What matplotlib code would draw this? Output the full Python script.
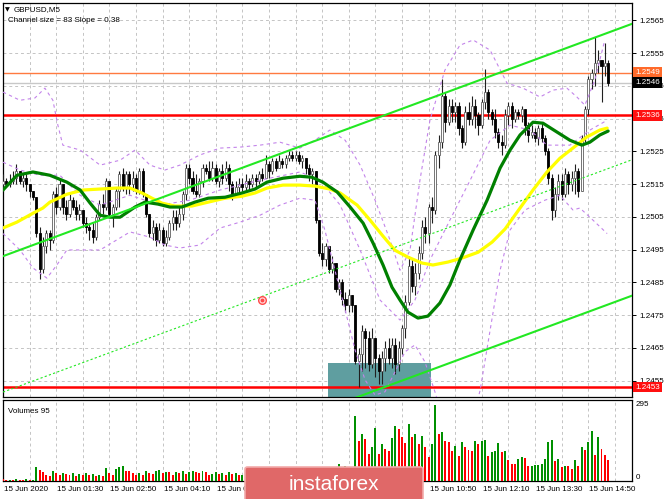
import matplotlib
matplotlib.use('Agg')
import matplotlib.pyplot as plt
import matplotlib.transforms as mtransforms
from matplotlib.patches import FancyBboxPatch, Rectangle
import numpy as np

plt.rcParams['font.family'] = ['Liberation Sans', 'DejaVu Sans']

# ---- GBPUSD M5, 15 Jun 2020 ----
first_open = 1.2515
close = [1.2516, 1.2515, 1.2516, 1.2517, 1.2519, 1.2516, 1.2517, 1.2515, 1.2513, 1.2511,
         1.2500, 1.2489, 1.2496, 1.2500, 1.2498, 1.2512, 1.2508, 1.2515, 1.2508, 1.2506,
         1.2510, 1.2508, 1.2506, 1.2507, 1.2503, 1.2502, 1.2501, 1.2499, 1.2505, 1.2509,
         1.2508, 1.2516, 1.2506, 1.2508, 1.2513, 1.2518, 1.2514, 1.2518, 1.2515, 1.2517,
         1.2513, 1.2519, 1.2512, 1.2506, 1.2500, 1.2502, 1.2498, 1.2501, 1.2497, 1.2499,
         1.2503, 1.2505, 1.2503, 1.2506, 1.2512, 1.2520, 1.2517, 1.2513, 1.2512, 1.2516,
         1.2520, 1.2519, 1.2517, 1.2520, 1.2516, 1.2519, 1.2517, 1.2520, 1.2515, 1.2512,
         1.2514, 1.2515, 1.2514, 1.2516, 1.2515, 1.2517, 1.2516, 1.2518, 1.2517, 1.2521,
         1.2519, 1.2522, 1.2520, 1.2522, 1.2521, 1.2523, 1.2524, 1.2523, 1.2524, 1.2522,
         1.2523, 1.2520, 1.2518, 1.2519, 1.2504, 1.2494, 1.2492, 1.2496, 1.2489, 1.2491,
         1.2483, 1.2485, 1.2480, 1.2478, 1.2481, 1.2478, 1.2461, 1.2463, 1.2470, 1.2468,
         1.2460, 1.2468, 1.2462, 1.2458, 1.2462, 1.2465, 1.2462, 1.2466, 1.2460, 1.2465,
         1.2471, 1.2479, 1.2490, 1.2484, 1.2488, 1.2494, 1.2502, 1.2500, 1.2508, 1.2507,
         1.2524, 1.2528, 1.2542, 1.2534, 1.2539, 1.2537, 1.2539, 1.2532, 1.2528, 1.2537,
         1.2535, 1.2539, 1.2536, 1.2533, 1.2540, 1.2543, 1.2537, 1.2535, 1.2531, 1.2528,
         1.2527, 1.2536, 1.2539, 1.2535, 1.2537, 1.2536, 1.2538, 1.2533, 1.2530, 1.2531,
         1.2529, 1.2532, 1.2529, 1.2525, 1.2517, 1.2507, 1.2512, 1.2516, 1.2512, 1.2518,
         1.2515, 1.2517, 1.2519, 1.2513, 1.2529, 1.2538, 1.2547, 1.2549, 1.2552, 1.2553,
         1.2551, 1.2552, 1.2546]
high = [1.2518, 1.2517, 1.2518, 1.2519, 1.2521, 1.2519, 1.2518, 1.2518, 1.2515, 1.2513,
        1.2511, 1.2502, 1.2499, 1.2501, 1.2501, 1.2513, 1.2514, 1.2517, 1.2515, 1.2510,
        1.2512, 1.2511, 1.2510, 1.2509, 1.2507, 1.2505, 1.2503, 1.2503, 1.2506, 1.2510,
        1.2512, 1.2517, 1.2515, 1.2509, 1.2514, 1.2519, 1.2520, 1.2519, 1.2519, 1.2519,
        1.2518, 1.2520, 1.2520, 1.2512, 1.2506, 1.2504, 1.2503, 1.2503, 1.2502, 1.2501,
        1.2504, 1.2507, 1.2507, 1.2508, 1.2513, 1.2521, 1.2521, 1.2519, 1.2518, 1.2517,
        1.2521, 1.2521, 1.2522, 1.2522, 1.2521, 1.2520, 1.2521, 1.2522, 1.2521, 1.2516,
        1.2516, 1.2517, 1.2517, 1.2518, 1.2517, 1.2518, 1.2518, 1.2519, 1.2520, 1.2524,
        1.2522, 1.2523, 1.2523, 1.2524, 1.2523, 1.2524, 1.2525, 1.2525, 1.2525, 1.2525,
        1.2524, 1.2523, 1.2521, 1.2520, 1.2519, 1.2504, 1.2497, 1.2497, 1.2496, 1.2493,
        1.2491, 1.2486, 1.2486, 1.2482, 1.2483, 1.2481, 1.2478, 1.2465, 1.2472, 1.2471,
        1.2470, 1.2471, 1.2468, 1.2463, 1.2464, 1.2467, 1.2468, 1.2468, 1.2468, 1.2467,
        1.2472, 1.2481, 1.2493, 1.2492, 1.2491, 1.2496, 1.2504, 1.2505, 1.2509, 1.2511,
        1.2525, 1.2530, 1.2547, 1.2543, 1.2541, 1.2541, 1.2540, 1.2540, 1.2533, 1.2539,
        1.2540, 1.2542, 1.2541, 1.2537, 1.2541, 1.2550, 1.2544, 1.2538, 1.2538, 1.2532,
        1.2530, 1.2538, 1.2540, 1.2540, 1.2538, 1.2538, 1.2539, 1.2538, 1.2534, 1.2533,
        1.2532, 1.2533, 1.2534, 1.2530, 1.2526, 1.2518, 1.2514, 1.2518, 1.2518, 1.2520,
        1.2519, 1.2519, 1.2521, 1.2520, 1.2530, 1.2539, 1.2548, 1.2550, 1.2560, 1.2556,
        1.2553, 1.2558, 1.2553]
low = [1.2513, 1.2514, 1.2514, 1.2515, 1.2515, 1.2515, 1.2514, 1.2513, 1.2511, 1.2510,
       1.2499, 1.2486, 1.2488, 1.2494, 1.2495, 1.2497, 1.2506, 1.2507, 1.2506, 1.2504,
       1.2505, 1.2507, 1.2504, 1.2504, 1.2502, 1.2500, 1.2498, 1.2497, 1.2498, 1.2504,
       1.2506, 1.2507, 1.2505, 1.2502, 1.2507, 1.2508, 1.2513, 1.2512, 1.2512, 1.2513,
       1.2512, 1.2512, 1.2511, 1.2505, 1.2499, 1.2498, 1.2496, 1.2497, 1.2496, 1.2496,
       1.2498, 1.2501, 1.2501, 1.2502, 1.2504, 1.2510, 1.2515, 1.2512, 1.2511, 1.2511,
       1.2514, 1.2518, 1.2516, 1.2516, 1.2515, 1.2514, 1.2515, 1.2516, 1.2513, 1.2510,
       1.2511, 1.2512, 1.2513, 1.2513, 1.2513, 1.2514, 1.2514, 1.2515, 1.2516, 1.2517,
       1.2517, 1.2518, 1.2519, 1.2520, 1.2520, 1.2520, 1.2522, 1.2522, 1.2522, 1.2521,
       1.2520, 1.2518, 1.2516, 1.2515, 1.2503, 1.2493, 1.2490, 1.2490, 1.2488, 1.2488,
       1.2482, 1.2481, 1.2478, 1.2476, 1.2476, 1.2476, 1.2460, 1.2453, 1.2458, 1.2459,
       1.2458, 1.2459, 1.2456, 1.2454, 1.2454, 1.2458, 1.2460, 1.2459, 1.2457, 1.2458,
       1.2463, 1.2468, 1.2478, 1.2482, 1.2481, 1.2486, 1.2492, 1.2497, 1.2497, 1.2503,
       1.2506, 1.2520, 1.2526, 1.2531, 1.2533, 1.2534, 1.2534, 1.2530, 1.2526, 1.2527,
       1.2533, 1.2533, 1.2532, 1.2530, 1.2532, 1.2538, 1.2535, 1.2533, 1.2529, 1.2526,
       1.2524, 1.2526, 1.2533, 1.2532, 1.2534, 1.2535, 1.2534, 1.2530, 1.2528, 1.2529,
       1.2528, 1.2527, 1.2528, 1.2524, 1.2515, 1.2504, 1.2505, 1.2510, 1.2510, 1.2511,
       1.2512, 1.2513, 1.2512, 1.2511, 1.2513, 1.2528, 1.2536, 1.2544, 1.2545, 1.2549,
       1.2540, 1.2548, 1.2545]
volume = [6, 4, 5, 3, 7, 5, 4, 6, 3, 5,
          53, 42, 33, 22, 20, 37, 30, 25, 32, 26,
          22, 30, 21, 28, 22, 30, 24, 27, 21, 25,
          18, 50, 30, 22, 45, 55, 57, 38, 38, 30,
          24, 32, 25, 37, 30, 26, 40, 44, 32, 36,
          34, 24, 36, 32, 38, 28, 33, 40, 34, 30,
          37, 34, 22, 28, 35, 26, 30, 24, 34, 26,
          30, 22, 25, 28, 33, 25, 30, 36, 28, 40,
          32, 30, 26, 34, 29, 24, 31, 27, 22, 30,
          25, 33, 36, 40, 48, 45, 42, 38, 44, 40,
          46, 64, 50, 60, 52, 48, 253, 156, 183, 163,
          106, 130, 205, 103, 143, 123, 116, 165, 212, 202,
          169, 149, 222, 170, 183, 143, 176, 130, 93, 145,
          295, 183, 190, 156, 152, 116, 136, 97, 152, 130,
          119, 116, 156, 143, 156, 159, 97, 114, 116, 146,
          112, 116, 83, 66, 64, 86, 93, 90, 57, 60,
          61, 62, 64, 86, 152, 159, 77, 86, 55, 60,
          57, 46, 83, 60, 130, 120, 150, 193, 99, 169,
          123, 99, 80]

# moving averages (bar index, price)
green_ma_bar = [0, 4.2, 9.0, 14.1, 19.2, 23.2, 26.2, 29.2, 32.2, 35.2, 39.7, 42.7, 46.6, 50.2,
                53.8, 57.7, 61.7, 66.8, 71.9, 75.8, 79.4, 84.2, 89.3, 92.9, 96.2, 100.5, 104.4,
                108.3, 111.3, 114.3, 117.0, 119.4, 121.8, 124.8, 127.8, 131.4, 134.4, 137.4,
                141.4, 145.6, 149.5, 152.5, 155.5, 159.4, 162.4, 166.6, 170.5, 174.1, 176.5,
                179.5, 182.0]
green_ma = [1.25132, 1.25177, 1.25187, 1.25177, 1.25156, 1.25132, 1.25092, 1.25055, 1.25049,
            1.25049, 1.25080, 1.25095, 1.25089, 1.25080, 1.25080, 1.25095, 1.25107, 1.25110,
            1.25123, 1.25135, 1.25156, 1.25168, 1.25174, 1.25171, 1.25156, 1.25126, 1.25080,
            1.25031, 1.24970, 1.24903, 1.24835, 1.24796, 1.24759, 1.24741, 1.24747, 1.24787,
            1.24842, 1.24918, 1.25010, 1.25101, 1.25199, 1.25254, 1.25300, 1.25339, 1.25336,
            1.25309, 1.25284, 1.25269, 1.25278, 1.25300, 1.25312]
yellow_ma_bar = [0, 4.2, 9.0, 12.0, 14.1, 19.2, 24.1, 29.2, 34.3, 38.2, 41.8, 44.8, 47.8, 51.7,
                 56.8, 61.7, 66.8, 71.9, 75.8, 79.4, 84.2, 89.3, 93.8, 98.3, 101.4, 106.5, 110.4,
                 114.3, 117.9, 121.8, 126.0, 129.3, 133.8, 138.0, 142.9, 147.1, 151.0, 155.5,
                 159.4, 163.6, 167.5, 171.4, 175.6, 179.5, 181.7]
yellow_ma = [1.25016, 1.25034, 1.25061, 1.25077, 1.25095, 1.25119, 1.25132, 1.25135, 1.25138,
             1.25138, 1.25123, 1.25107, 1.25092, 1.25083, 1.25083, 1.25095, 1.25107, 1.25113,
             1.25123, 1.25138, 1.25147, 1.25147, 1.25144, 1.25135, 1.25123, 1.25086, 1.25040,
             1.24991, 1.24948, 1.24927, 1.24909, 1.24903, 1.24912, 1.24924, 1.24942, 1.24973,
             1.25013, 1.25077, 1.25132, 1.25187, 1.25229, 1.25260, 1.25294, 1.25315, 1.25321]

# bollinger envelopes (bar index, price)
bb_up_bar = [0, 5.1, 9.6, 12.6, 15.0, 16.5, 18.0, 23.2, 29.2, 35.2, 39.7, 44.2, 48.7, 53.2,
             59.2, 65.3, 71.3, 77.3, 83.3, 89.3, 93.8, 98.3, 102.9, 107.4, 111.9, 116.4,
             119.4, 122.4, 125.4, 128.4, 132.9, 137.4, 141.4, 146.5, 151.6, 156.4, 161.5,
             165.4, 169.6, 172.6, 175.0, 178.0, 181.0]
bb_up = [1.25431, 1.25406, 1.25413, 1.25443, 1.25406, 1.25330, 1.25269, 1.25254, 1.25208,
         1.25223, 1.25254, 1.25208, 1.25193, 1.25208, 1.25239, 1.25260, 1.25263, 1.25269,
         1.25278, 1.25260, 1.25284, 1.25315, 1.25284, 1.25208, 1.25101, 1.24979, 1.24887,
         1.24948, 1.25162, 1.25345, 1.25498, 1.25574, 1.25590, 1.25559, 1.25458, 1.25443,
         1.25416, 1.25437, 1.25443, 1.25416, 1.25391, 1.25468, 1.25590]
bb_mid_bar = [0, 5.1, 11.1, 17.1, 23.2, 29.2, 38.2, 47.2, 56.2, 65.3, 77.3, 89.3, 95.3, 101.4,
              107.4, 113.4, 119.4, 123.9, 128.4, 134.4, 140.5, 146.5, 152.5, 158.5, 163.6,
              170.5, 176.5, 181.7]
bb_mid = [1.25217, 1.25193, 1.25177, 1.25177, 1.25116, 1.25086, 1.25116, 1.25086, 1.25101,
          1.25132, 1.25162, 1.25187, 1.25162, 1.25086, 1.24949, 1.24796, 1.24735, 1.24796,
          1.24918, 1.25040, 1.25162, 1.25284, 1.25330, 1.25315, 1.25269, 1.25269, 1.25315,
          1.25345]
bb_low_bar = [0, 5.1, 9.0, 13.2, 16.2, 19.2, 29.2, 38.2, 44.2, 48.7, 53.2, 59.2, 65.3, 71.3,
              77.3, 83.3, 89.3, 93.8, 96.8, 99.8, 102.9, 105.9, 108.9, 111.9, 114.9, 117.9,
              120.9, 123.9, 126.9, 129.9, 132.9, 140.5, 143.5, 146.5, 149.5, 152.5, 157.0,
              163.0, 167.5, 171.4, 173.5, 176.5, 181.7]
bb_low = [1.24999, 1.24949, 1.24894, 1.24863, 1.24903, 1.24949, 1.24949, 1.25004, 1.24988,
          1.24964, 1.24955, 1.24964, 1.25016, 1.25034, 1.25055, 1.25086, 1.25107, 1.25101,
          1.25010, 1.24888, 1.24766, 1.24643, 1.24552, 1.24506, 1.24516, 1.24577, 1.24638,
          1.24659, 1.24607, 1.24516, 1.24414, 1.24399, 1.24521, 1.24704, 1.24887, 1.25010,
          1.25071, 1.25101, 1.25116, 1.25071, 1.25077, 1.25049, 1.24999]

# regression channel: middle line value at bar 0, slope per bar, half width
chan_mid0 = 1.24515
chan_slope = 0.0000375
chan_half = 0.00415

# horizontal levels
level_orange = 1.2549
level_bid = 1.2546
level_red_hi = 1.2536
level_red_lo = 1.2453

# support zone and target mark
zone_bars = (97.7, 128.7)
zone_top = 1.24603
target_bar, target_price = 77.9, 1.24796

price_ticks = [1.2455, 1.2465, 1.2475, 1.2485, 1.2495, 1.2505, 1.2515, 1.2525,
               1.2535, 1.2545, 1.2555, 1.2565]
time_labels = ['15 Jun 2020', '15 Jun 01:30', '15 Jun 02:50', '15 Jun 04:10', '15 Jun 05:30',
               '15 Jun 06:50', '15 Jun 08:10', '15 Jun 09:30', '15 Jun 10:50', '15 Jun 12:10',
               '15 Jun 13:30', '15 Jun 14:50']
time_label_bars = [0, 16, 32, 48, 64, 80, 96, 112, 128, 144, 160, 176]

# ---- figure ----
W, H = 665, 499
fig = plt.figure(figsize=(W / 100, H / 100), dpi=100)
fig.patch.set_facecolor('white')

ax = fig.add_axes([3 / W, 1 - 397 / H, 629 / W, 394 / H])
axv = fig.add_axes([3 / W, 1 - 481 / H, 629 / W, 81 / H])
xmax = 629 / 3.325

grid_kw = dict(color='#c4c4c4', lw=0.7, ls=(0, (3, 3)))
fs = 5.8

ax.set_xlim(0, xmax)
ax.set_ylim(1.24500, 1.25703)
ax.set_xticks(np.arange(8, xmax, 8))
ax.set_yticks(price_ticks)
ax.set_yticklabels(['%.4f' % p for p in price_ticks])
ax.yaxis.tick_right()
ax.tick_params(axis='x', length=0, labelbottom=False)
ax.tick_params(axis='y', length=3, width=0.7, pad=2, labelsize=fs)
ax.grid(True, **grid_kw)
ax.set_axisbelow(True)
for s in ax.spines.values():
    s.set_color('black')
    s.set_linewidth(0.9)

k = np.arange(len(close))
c = np.array(close)
o = np.r_[first_open, c[:-1]]
hi = np.array(high)
lo = np.array(low)

ax.add_patch(Rectangle((zone_bars[0], 1.2440), zone_bars[1] - zone_bars[0], zone_top - 1.2440,
                       fc='#5f9ea0', ec='none', zorder=1))

ax.axhline(level_orange, color='#ff7a40', lw=1.0, zorder=2)
ax.axhline(level_bid, color='#c8c8c8', lw=1.0, zorder=2)
ax.axhline(level_red_hi, color='#ff0000', lw=1.8, zorder=2)
ax.axhline(level_red_lo, color='#ff0000', lw=1.8, zorder=2)

# candles
up = c >= o
ax.vlines(k, lo, hi, color='#202020', lw=0.8, zorder=4)
body = np.maximum(np.abs(c - o), 0.00003)
ax.bar(k[up], body[up], bottom=o[up], width=0.62, color='white', edgecolor='#606060',
       lw=0.6, zorder=5)
ax.bar(k[~up], body[~up], bottom=c[~up], width=0.62, color='black', edgecolor='black',
       lw=0.6, zorder=5)

# indicators
bb_kw = dict(color='#c384ea', lw=0.8, ls=(0, (3, 3)), zorder=6)
ax.plot(bb_up_bar, bb_up, **bb_kw)
ax.plot(bb_mid_bar, bb_mid, **bb_kw)
ax.plot(bb_low_bar, bb_low, **bb_kw)
ax.plot(yellow_ma_bar, yellow_ma, color='#ffff00', lw=2.3, zorder=7, solid_capstyle='round')
ax.plot(green_ma_bar, green_ma, color='#008000', lw=2.3, zorder=8, solid_capstyle='round')

chan_x = np.array([0, xmax])
chan_mid = chan_mid0 + chan_slope * chan_x
ax.plot(chan_x, chan_mid + chan_half, color='#22e822', lw=1.5, zorder=9)
ax.plot(chan_x, chan_mid - chan_half, color='#22e822', lw=1.5, zorder=9)
ax.plot(chan_x, chan_mid, color='#22e822', lw=0.8, ls=(0, (2, 2)), zorder=9)

ax.plot(target_bar, target_price, 'o', ms=5.5, mfc='#ffe0e0', mec='#ff4a4a', mew=1.0, zorder=9)
ax.plot(target_bar, target_price, 'o', ms=1.8, color='#ff4a4a', zorder=10)

# price labels on the right axis
tr = mtransforms.blended_transform_factory(ax.transAxes, ax.transData)
for val, bg in [(level_orange, '#ff6a2a'), (level_bid, '#000000'),
                (level_red_hi, '#ff1010'), (level_red_lo, '#ff1010')]:
    ax.text(1.0 + 3 / 629, val, '%.4f' % val, transform=tr, ha='left', va='center',
            fontsize=fs, color='white', zorder=20, clip_on=False,
            bbox=dict(boxstyle='square,pad=0.22', fc=bg, ec='none'))

fig.text(5 / W, 1 - 10 / H, '\u25bc', fontsize=4.5, family='DejaVu Sans', va='center')
fig.text(14 / W, 1 - 10 / H, 'GBPUSD,M5', fontsize=fs, va='center')
fig.text(8 / W, 1 - 20 / H, 'Channel size = 83 Slope = 0.38', fontsize=fs, va='center')

# volumes
vol = np.array(volume)
vcol = np.where(np.r_[False, vol[1:] > vol[:-1]], '#009000', '#ff0000')
axv.bar(k, vol, width=0.6, color=vcol, zorder=3)
axv.set_xlim(0, xmax)
axv.set_ylim(0, 314)
axv.set_xticks(np.arange(8, xmax, 8))
axv.set_yticks([])
axv.tick_params(axis='x', length=0, labelbottom=False)
axv.grid(True, axis='x', **grid_kw)
axv.set_axisbelow(True)
for s in axv.spines.values():
    s.set_color('black')
    s.set_linewidth(0.9)
axv.text(0.008, 0.86, 'Volumes 95', transform=axv.transAxes, fontsize=fs, va='center')
trv = mtransforms.blended_transform_factory(axv.transAxes, axv.transData)
axv.text(1.0 + 4 / 629, 295, '295', transform=trv, fontsize=fs, va='center', clip_on=False)
axv.text(1.0 + 4 / 629, 12, '0', transform=trv, fontsize=fs, va='center', clip_on=False)

trt = mtransforms.blended_transform_factory(axv.transData, axv.transAxes)
for kb, lab in zip(time_label_bars, time_labels):
    axv.text(kb + 0.3, -0.105, lab, transform=trt, fontsize=fs, ha='left', va='center',
             clip_on=False)

# watermark
logo = FancyBboxPatch((245 / W, -6 / H), 178 / W, 38 / H, transform=fig.transFigure,
                      boxstyle='round,pad=0,rounding_size=0.004', fc='#e06868', ec='#f2aaaa',
                      lw=1.2, zorder=30)
fig.patches.append(logo)
fig.text(334 / W, 1 - 484 / H, 'instaforex', color='white', fontsize=15, ha='center',
         va='center', zorder=31)

fig.savefig('out.png', dpi=100)
